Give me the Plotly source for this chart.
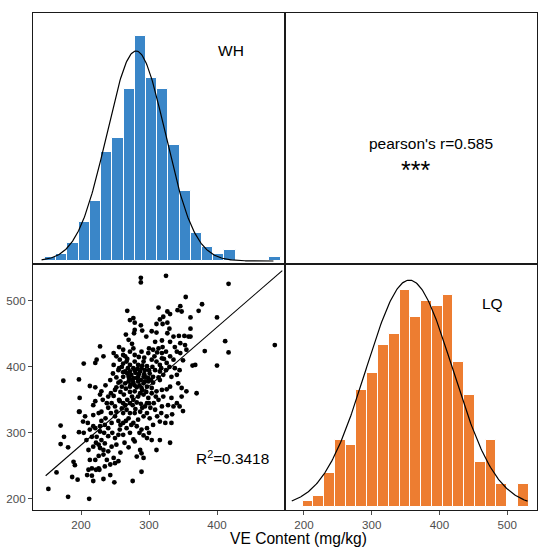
import numpy as np
import plotly.graph_objects as go

# ---------------- data ----------------
wh_bin_left = [147, 163.5, 180, 196.5, 213, 229.5, 246, 262.5, 279, 295.5, 312,
               328.5, 345, 361.5, 378, 394.5, 411, 427.5, 444, 460.5, 477]
wh_counts = [1, 2, 5, 11, 17, 31, 35, 49, 64, 52, 49, 33, 20, 8, 4, 2, 3, 0, 0, 0, 1]
wh_bin_width = 16.5

lq_bin_left = [198, 213.9, 229.8, 245.7, 261.6, 277.5, 293.4, 309.3, 325.2, 341.1, 357,
               372.9, 388.8, 404.7, 420.6, 436.5, 452.4, 468.3, 484.2, 500.1, 516]
lq_counts = [1, 2, 6, 12, 11, 21, 24, 29, 31, 39, 34, 37, 36, 38, 26, 20, 8, 12, 4, 0, 4]
lq_bin_width = 15.9

# fitted normal curves (mean, sd, peak height in counts, x-span)
wh_fit_mean, wh_fit_sd, wh_fit_peak, wh_fit_span = 281, 43, 59.8, (142, 483)
lq_fit_mean, lq_fit_sd, lq_fit_peak, lq_fit_span = 355.6, 64, 40.7, (182, 530)

# regression line ends
fit_x = [148, 496]
fit_y = [235, 546]

# scatter: WH (x) vs LQ (y)
points = [
    # upper cluster
    (354, 506), (346, 492), (348, 484), (342, 486), (327, 484), (331, 480), (314, 490),
    (321, 476), (316, 472), (327, 467), (320, 465), (311, 465), (268, 485), (272, 471),
    (277, 474), (279, 467), (288, 463), (279, 456), (278, 451), (266, 449), (304, 454),
    (311, 452), (327, 451), (331, 438), (336, 446), (344, 447), (352, 447), (358, 446),
    (346, 436), (353, 433), (319, 440), (309, 438), (320, 430), (270, 441), (275, 435),
    (277, 428), (272, 423), (279, 418), (289, 423), (299, 421), (306, 426), (312, 422),
    (319, 421), (325, 423), (331, 416), (341, 423), (346, 421), (355, 426), (228, 431),
    (233, 416), (223, 411), (221, 406), (204, 405), (248, 421), (252, 416), (257, 411),
    (262, 426), (265, 416), (267, 408), (272, 403), (279, 408), (284, 403), (292, 408),
    (297, 401), (304, 411), (311, 408), (319, 413), (316, 403), (326, 406), (336, 411),
    (248, 403), (255, 395), (260, 400), (265, 393), (272, 393), (279, 395), (287, 393),
    (294, 395), (301, 390), (309, 395), (316, 393), (321, 388), (262, 385), (270, 385),
    (277, 383), (284, 385), (292, 385), (299, 383), (306, 385), (314, 384), (333, 385),
    (341, 388), (252, 384),
    # middle / lower cluster
    (270, 378), (277, 376), (284, 378), (292, 375), (299, 378), (306, 376), (272, 370),
    (282, 369), (289, 368), (297, 370), (304, 368), (316, 380), (279, 363), (213, 371),
    (221, 369), (230, 363), (252, 369), (248, 356), (240, 355), (221, 348), (218, 342),
    (257, 348), (265, 342), (260, 337), (267, 335), (272, 345), (277, 350), (284, 355),
    (292, 358), (299, 353), (297, 345), (304, 360), (311, 363), (319, 365), (326, 366),
    (331, 370), (343, 375), (348, 368), (355, 363), (321, 355), (314, 350), (333, 353),
    (341, 345), (348, 355), (319, 340), (328, 342), (336, 340), (198, 332), (203, 317),
    (218, 327), (226, 330), (230, 332), (218, 310), (213, 305), (221, 307), (228, 310),
    (235, 312), (240, 307), (245, 315), (250, 325), (252, 332), (262, 330), (272, 330),
    (270, 322), (279, 330), (287, 332), (284, 320), (292, 325), (297, 330), (301, 322),
    (309, 335), (316, 317), (324, 315), (333, 315), (282, 310), (289, 305), (297, 307),
    (277, 315), (262, 315), (257, 305), (267, 307), (255, 297), (250, 292), (262, 297),
    (272, 300), (277, 290), (279, 287), (297, 292), (304, 289), (316, 289), (331, 285),
    (311, 274), (287, 274), (289, 269), (282, 264), (292, 262), (228, 302), (223, 294),
    (216, 294), (208, 289), (230, 289), (235, 284), (226, 282), (218, 279), (228, 277),
    (233, 274), (240, 272), (245, 279), (252, 282), (248, 262), (238, 259), (233, 267),
    (221, 259), (213, 259), (216, 246), (226, 246), (235, 249), (243, 252), (250, 254),
    (255, 257), (211, 274), (345, 340), (350, 333),
    # dense core
    (268, 390), (274, 388), (280, 391), (285, 389), (271, 382), (276, 380), (282, 383),
    (288, 380), (265, 375), (273, 373), (279, 372), (286, 372), (293, 389), (296, 384),
    (262, 392), (258, 378), (266, 367), (272, 362), (290, 365), (294, 378), (300, 395),
    (303, 380), (283, 397), (277, 398), (269, 398), (289, 398), (260, 370), (255, 376),
    (275, 355), (282, 346), (288, 344), (294, 340), (302, 338), (307, 345), (263, 358),
    (258, 362), (245, 345), (250, 340), (240, 338), (255, 318),
    (256, 430), (262, 418), (268, 412), (285, 415), (293, 414), (300, 428), (308, 416),
    (314, 428), (322, 412), (330, 400), (338, 398), (325, 395), (318, 398), (305, 400),
    (290, 402), (262, 405), (256, 398), (247, 390), (243, 380), (236, 372), (228, 358),
    (232, 350), (238, 345), (244, 330), (236, 322), (230, 318), (246, 300), (240, 295),
    (234, 300), (258, 312), (266, 318), (274, 312), (286, 300), (292, 296), (300, 300),
    (306, 312), (312, 325), (318, 330), (326, 325), (334, 328), (300, 345), (310, 355),
    (287, 360), (296, 362), (276, 342), (268, 350), (262, 345), (280, 336), (290, 338),
    (256, 350), (250, 365), (244, 360), (264, 285), (270, 278), (258, 270), (226, 265),
    (222, 285), (204, 300), (210, 315), (206, 325), (345, 395), (350, 410), (338, 430),
    (330, 458), (296, 446), (290, 455),
    # outlying points
    (288, 535), (288, 528), (325, 538), (417, 526), (485, 433), (378, 495), (400, 475),
    (373, 485), (412, 439), (417, 422), (382, 424), (400, 402), (364, 402), (370, 360),
    (152, 215), (164, 240), (181, 203), (212, 200), (174, 379), (170, 311), (170, 283),
    (175, 294), (187, 233), (195, 229), (189, 256), (191, 251), (181, 278), (197, 381),
    (197, 301), (197, 332), (198, 353), (216, 235), (218, 227), (209, 236), (276, 227),
    (289, 241), (249, 225), (233, 230), (243, 236), (361, 446), (361, 458), (361, 475),
    (211, 244), (222, 244), (227, 244), (368, 403),
]
wh_values = [p[0] for p in points]
lq_values = [p[1] for p in points]

wh_range = [129.4, 500]
lq_range = [172, 544]
scatter_y_range = [183, 556]

labels = {"wh": "WH", "lq": "LQ", "r": "pearson's r=0.585", "sig": "***",
          "r2": "R<sup>2</sup>=0.3418", "axis": "VE Content (mg/kg)"}

BLUE = "#3A86C8"
ORANGE = "#ED7D31"
FONT = "Liberation Sans, Arial, sans-serif"
LINE = "#1a1a1a"
TICKC = "#4D4D4D"


def normal_curve(mean, sd, peak, span):
    xs = np.linspace(span[0], span[1], 300)
    return xs, peak * np.exp(-0.5 * ((xs - mean) / sd) ** 2)


fig = go.Figure()

# top-left: WH histogram
fig.add_trace(go.Bar(x=wh_bin_left, y=wh_counts, width=wh_bin_width, offset=0,
                     marker=dict(color=BLUE, line=dict(color="white", width=1)),
                     xaxis="x", yaxis="y", showlegend=False))
cx, cy = normal_curve(wh_fit_mean, wh_fit_sd, wh_fit_peak, wh_fit_span)
fig.add_trace(go.Scatter(x=cx, y=cy, mode="lines", line=dict(color="black", width=1.2),
                         xaxis="x", yaxis="y", showlegend=False))

# top-right: empty panel (only text), placeholder so its frame is drawn
fig.add_trace(go.Scatter(x=[None], y=[None], mode="markers", xaxis="x2", yaxis="y2",
                         showlegend=False, hoverinfo="skip"))

# bottom-left: scatter
fig.add_trace(go.Scatter(x=wh_values, y=lq_values, mode="markers",
                         marker=dict(color="black", size=4.8),
                         xaxis="x3", yaxis="y3", showlegend=False))
fig.add_trace(go.Scatter(x=fit_x, y=fit_y, mode="lines", line=dict(color="black", width=1.1),
                         xaxis="x3", yaxis="y3", showlegend=False))

# bottom-right: LQ histogram
fig.add_trace(go.Bar(x=lq_bin_left, y=lq_counts, width=lq_bin_width, offset=0,
                     marker=dict(color=ORANGE, line=dict(color="white", width=1)),
                     xaxis="x4", yaxis="y4", showlegend=False))
cx, cy = normal_curve(lq_fit_mean, lq_fit_sd, lq_fit_peak, lq_fit_span)
fig.add_trace(go.Scatter(x=cx, y=cy, mode="lines", line=dict(color="black", width=1.2),
                         xaxis="x4", yaxis="y4", showlegend=False))

W, H = 550, 554
L, M, R = 33 / W, 285 / W, 537 / W
T, MID, B = 1 - 13 / H, 1 - 264 / H, 1 - 510 / H

frame = dict(showline=True, mirror=True, linecolor=LINE, linewidth=1, showgrid=False,
             zeroline=False)
noticks = dict(showticklabels=False, ticks="")
tickstyle = dict(ticks="outside", ticklen=4, tickcolor=TICKC, tickwidth=1,
                 tickfont=dict(family=FONT, size=11.6, color=TICKC))

fig.update_layout(
    width=W, height=H, autosize=False,
    margin=dict(l=0, r=0, t=0, b=0),
    paper_bgcolor="white", plot_bgcolor="white",
    bargap=0,
    font=dict(family=FONT, color="black"),
    xaxis=dict(domain=[L, M], range=wh_range, anchor="y", **frame, **noticks),
    yaxis=dict(domain=[MID, T], range=[-0.86, 70.6], anchor="x", **frame, **noticks),
    xaxis2=dict(domain=[M, R], range=[0, 1], anchor="y2", **frame, **noticks),
    yaxis2=dict(domain=[MID, T], range=[0, 1], anchor="x2", **frame, **noticks),
    xaxis3=dict(domain=[L, M], range=wh_range, anchor="y3", tickvals=[200, 300, 400],
                **frame, **tickstyle),
    yaxis3=dict(domain=[B, MID], range=scatter_y_range, anchor="x3",
                tickvals=[200, 300, 400, 500], **frame, **tickstyle),
    xaxis4=dict(domain=[M, R], range=lq_range, anchor="y4", tickvals=[200, 300, 400, 500],
                **frame, **tickstyle),
    yaxis4=dict(domain=[B, MID], range=[-0.6, 43.6], anchor="x4", **frame, **noticks),
)

ann = [
    (labels["wh"], 231, 50.5, 15.5),
    (labels["lq"], 492.5, 303.5, 15.5),
    (labels["r"], 431, 143.6, 15.5),
    (labels["sig"], 415.5, 170.5, 25),
    (labels["r2"], 232, 457, 15.4),
    (labels["axis"], 298.5, 538, 15.6),
]
for text, px, py, size in ann:
    fig.add_annotation(text=text, x=px / W, y=1 - py / H, xref="paper", yref="paper",
                       xanchor="center", yanchor="middle", showarrow=False,
                       font=dict(family=FONT, size=size, color="black"))

fig.write_html("out.html", config={"displayModeBar": False},
               post_script="document.body.style.margin='0';document.body.style.overflow='hidden';")
